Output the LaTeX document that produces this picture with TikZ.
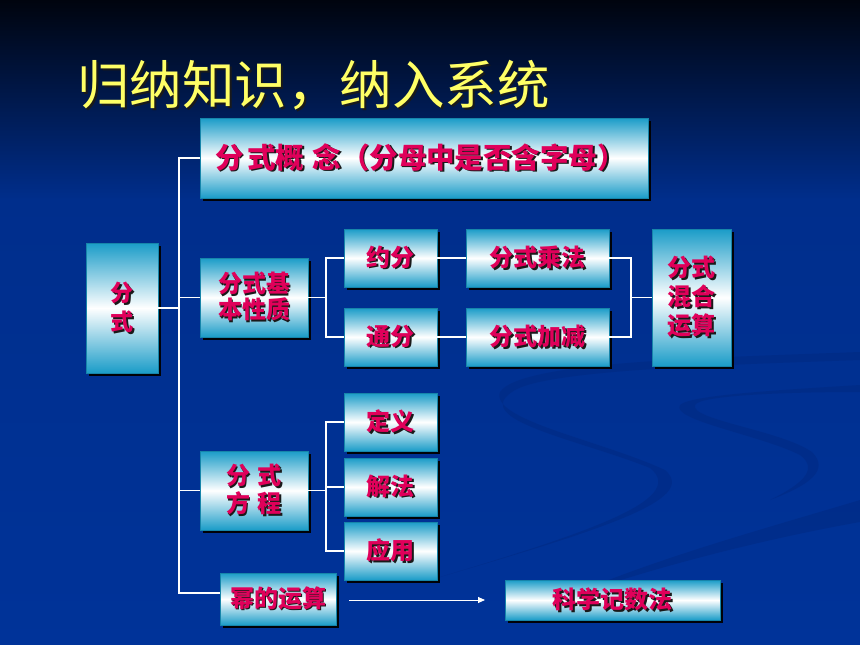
\documentclass[tikz,border=0pt]{standalone}
\usepackage{fontspec}
\setmainfont{Noto Sans CJK SC}
\usetikzlibrary{shadows,arrows.meta}
\definecolor{bgtop}{HTML}{00040E}
\definecolor{bgmid}{HTML}{002E8C}
\definecolor{bgbot}{HTML}{003399}
\definecolor{swoosh}{HTML}{00287E}
\definecolor{boxc}{HTML}{1A9CC8}
\definecolor{crim}{HTML}{E0005A}
\definecolor{tshadow}{HTML}{1A1A1A}
\definecolor{ttl}{HTML}{FFFF66}
\newcommand\shd[1]{\leavevmode\rlap{\kern1.8pt\raisebox{-1.8pt}{\textcolor{tshadow}{#1}}}#1}
\tikzset{
  box/.style={minimum width=#1, inner sep=0pt, outer sep=0pt,
    top color=boxc, bottom color=boxc, middle color=white,
    draw=boxc!85!black, line width=0.4pt,
    drop shadow={shadow xshift=3pt, shadow yshift=-3pt, fill=black, opacity=0.95},
    text=crim, font=\bfseries\fontsize{24}{29}\selectfont, align=center},
  link/.style={draw=white, line width=1.6pt},
  arr/.style={draw=white, line width=0.9pt, -{Triangle[length=7pt,width=6pt]}},
}
\begin{document}
\begin{tikzpicture}[x=1pt,y=-1pt]
\useasboundingbox (0,0) rectangle (860,645);
% background
\fill[top color=bgtop, bottom color=bgmid] (0,0) rectangle (860,200);
\fill[top color=bgmid, bottom color=bgbot] (0,199.5) rectangle (860,645);
% faint swooshes
\fill[swoosh, opacity=0.45] (860,352) .. controls (700,358) and (520,362) .. (500,392)
  .. controls (490,420) and (600,440) .. (665,470)
  .. controls (700,500) and (600,530) .. (430,580)
  .. controls (580,535) and (690,500) .. (650,468)
  .. controls (580,440) and (470,420) .. (512,392)
  .. controls (540,370) and (720,365) .. (860,360) -- cycle;
\fill[swoosh, opacity=0.45] (860,385) .. controls (780,390) and (690,395) .. (680,405)
  .. controls (670,420) and (760,435) .. (800,455)
  .. controls (820,470) and (800,485) .. (770,500)
  .. controls (810,485) and (830,470) .. (812,452)
  .. controls (780,430) and (690,420) .. (695,405)
  .. controls (700,395) and (790,392) .. (860,392) -- cycle;
\fill[swoosh, opacity=0.45] (860,500) .. controls (760,530) and (650,560) .. (560,600)
  .. controls (660,565) and (770,538) .. (860,522) -- cycle;
% title
\node[anchor=west, inner sep=0pt, text=ttl, font=\fontsize{52.5}{60}\selectfont] (title) at (77,86) {\shd{归纳知识，纳入系统}};
% boxes
\node[box=448pt, minimum height=80pt, text width=418pt, align=left, font=\bfseries\fontsize{28.5}{32}\selectfont] (gn) at (424,158) {\shd{分\hspace{4pt}式概\hspace{8pt}念（分母中是否含字母）}};
\node[box=72pt, minimum height=130pt, font=\bfseries\fontsize{23}{29}\selectfont] (root) at (122,308) {\shd{分}\\\shd{式}};
\node[box=108pt, minimum height=79pt, font=\bfseries\fontsize{24}{26}\selectfont] (jb) at (254,297.5) {\shd{分式基}\\\shd{本性质}};
\node[box=93pt, minimum height=58pt] (yf) at (390.5,258) {\shd{约分}};
\node[box=93pt, minimum height=58pt] (tf) at (390.5,337) {\shd{通分}};
\node[box=143pt, minimum height=58pt] (cf) at (537.5,258) {\shd{分式乘法}};
\node[box=143pt, minimum height=58pt] (jj) at (537.5,337) {\shd{分式加减}};
\node[box=79pt, minimum height=137pt] (hh) at (691.5,297.5) {\shd{分式}\\\shd{混合}\\\shd{运算}};
\node[box=93pt, minimum height=58pt] (dy) at (390.5,422) {\shd{定义}};
\node[box=93pt, minimum height=58pt] (jf) at (390.5,487) {\shd{解法}};
\node[box=93pt, minimum height=58pt] (yy) at (390.5,551) {\shd{应用}};
\node[box=108pt, minimum height=79pt, font=\bfseries\fontsize{24}{28}\selectfont] (fc) at (254,490.5) {\shd{分\,\,式}\\\shd{方\,\,程}};
\node[box=116pt, minimum height=52pt] (mi) at (278,599) {\shd{幂的运算}};
\node[box=215pt, minimum height=40pt] (kx) at (612.5,600) {\shd{科学记数法}};
% trunk
\coordinate (T) at (179,158);
\draw[link] (gn.west) -- (T) |- ([yshift=6pt]mi.west);
\draw[link] (root.east) -- (root.east -| T);
\draw[link] (jb.west -| T) -- (jb.west);
\draw[link] (fc.west -| T) -- (fc.west);
% 基本性质 branch
\draw[link] (jb.east) -- ++(18,0) coordinate (b1);
\draw[link] (yf.west) -| (b1) |- (tf.west);
\draw[link] (yf.east) -- (cf.west);
\draw[link] (tf.east) -- (jj.west);
% to 混合运算
\coordinate (b2) at (631,297.5);
\draw[link] (cf.east) -| (b2) |- (jj.east);
\draw[link] (b2) -- (hh.west);
% 分式方程 branch
\draw[link] (fc.east) -- ++(18,0) coordinate (b3);
\draw[link] (dy.west) -| (b3) |- (yy.west);
\draw[link] (jf.west) -- (jf.west -| b3);
% arrow
\draw[arr, shorten <=13pt, shorten >=20pt] ([yshift=-1pt]mi.east) -- ([yshift=-1pt]mi.east -| kx.west);
\end{tikzpicture}
\end{document}
